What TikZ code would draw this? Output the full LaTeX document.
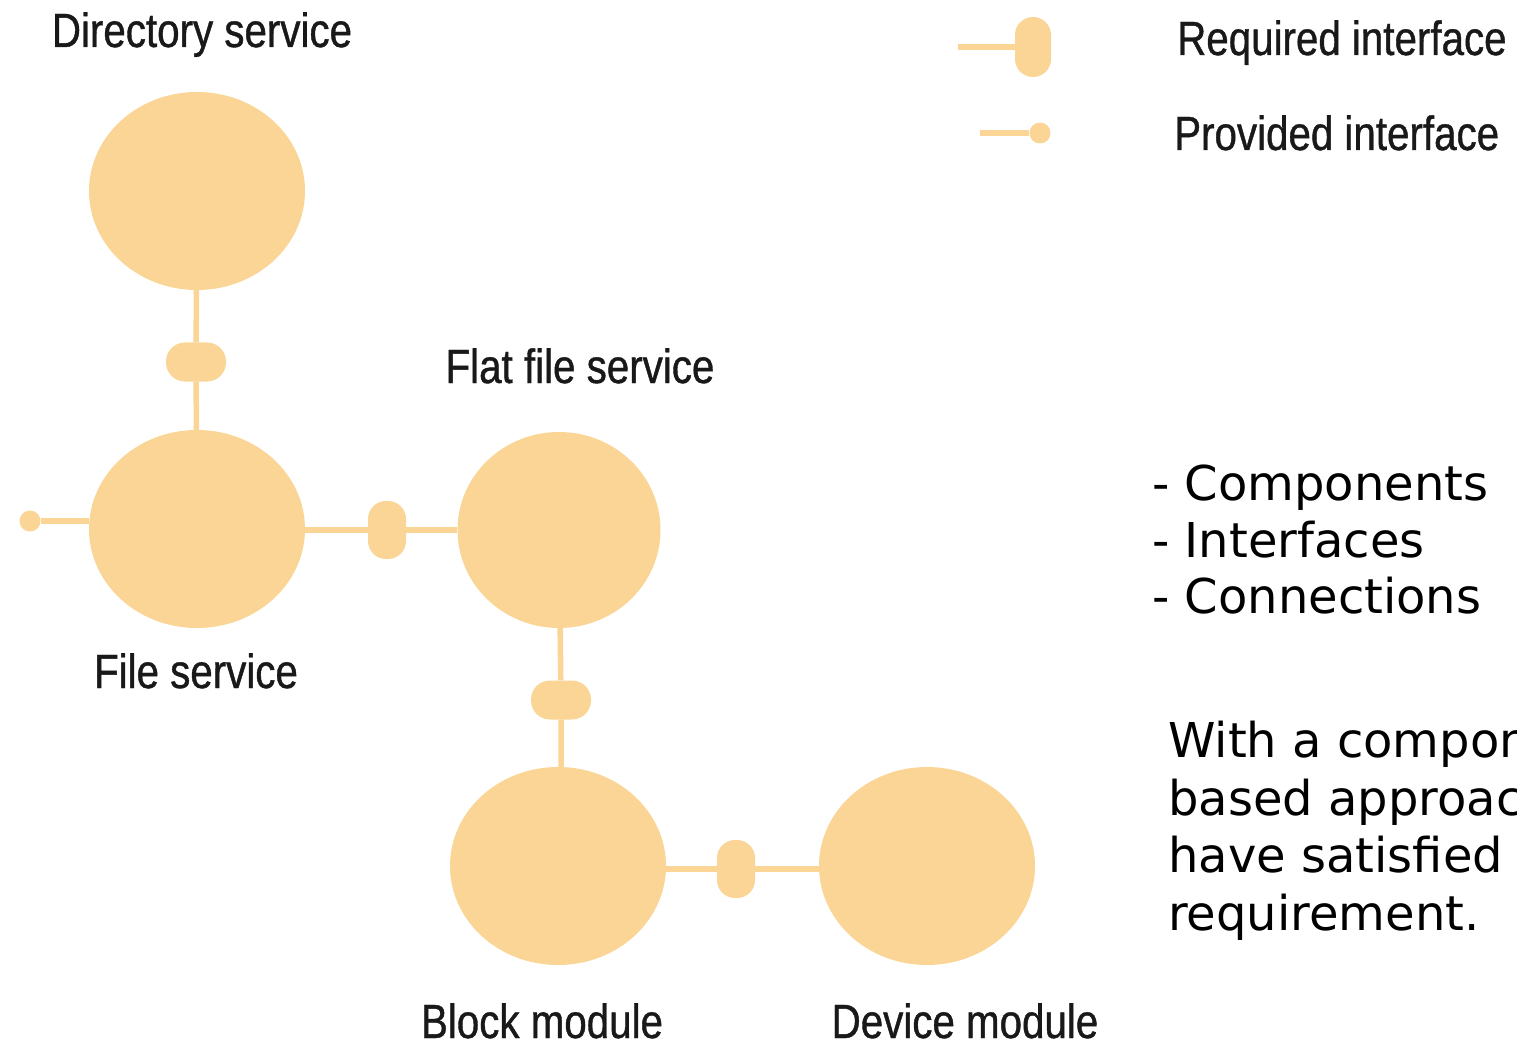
\documentclass[tikz,border=0pt]{standalone}
\usepackage{fontspec}
\usetikzlibrary{shapes.geometric}
\newfontfamily\labfont[FakeStretch=0.84,FakeBold=0.8]{Liberation Sans}
\newfontfamily\verdfont{DejaVu Sans}
\definecolor{comp}{HTML}{FAD596}
\tikzset{
  compnode/.style={ellipse, fill=comp, draw=none, minimum width=216pt, minimum height=198pt, inner sep=0pt},
  conn/.style={draw=comp, line width=5.5pt},
  vpill/.style={fill=comp, draw=none, rounded corners=18pt, minimum width=38pt, minimum height=58pt, inner sep=0pt},
  hpill/.style={fill=comp, draw=none, rounded corners=19pt, minimum width=60pt, minimum height=39pt, inner sep=0pt},
  provdot/.style={circle, fill=comp, draw=none, minimum size=21pt, inner sep=0pt},
  lab/.style={font=\labfont\fontsize{48}{52}\selectfont, inner sep=0pt, anchor=base, text=black!90},
  body/.style={font=\verdfont\fontsize{48}{56}\selectfont, inner sep=0pt, anchor=base west, text=black}
}
\begin{document}
\begin{tikzpicture}[x=1pt,y=-1pt]
\path[use as bounding box, clip] (0,0) rectangle (1517,1048);
\fill[white] (0,0) rectangle (1517,1048);

% components
\node[compnode] (dir) at (197,191) {};
\node[compnode] (file) at (197,529) {};
\node[compnode, minimum width=203pt, minimum height=196pt] (flat) at (559,530) {};
\node[compnode] (block) at (558,866) {};
\node[compnode] (device) at (927,866) {};

% required interfaces
\node[hpill] (p1) at (196,362) {};
\node[vpill] (p2) at (387,530) {};
\node[hpill] (p3) at (561,700) {};
\node[vpill] (p4) at (736,869) {};

% provided interface
\node[provdot] (pv) at (30,521) {};

% connectors
\draw[conn] (dir) -- (p1) -- (file);
\draw[conn] (file.east |- p2) -- (p2) -- (flat.west |- p2);
\draw[conn] (flat) -- (p3) -- (block.north -| p3);
\draw[conn] (block.east |- p4) -- (p4) -- (device.west |- p4);
\draw[conn] (pv) -- (file.west |- pv);

% legend
\node[vpill, minimum width=36pt, minimum height=60pt] (lreq) at (1033,47) {};
\coordinate (lreqend) at (958,47);
\draw[conn] (lreqend) -- (lreq);
\node[provdot] (lprov) at (1040,133) {};
\coordinate (lprovend) at (980,133);
\draw[conn] (lprovend) -- (lprov);
\node[lab, anchor=base west] (treq) at (1177,55) {Required interface};
\node[lab, anchor=base west] (tprov) at (1174,150) {Provided interface};

% labels
\node[lab] (tdir) at (202,47) {Directory service};
\node[lab] (tflat) at (580,383) {Flat file service};
\node[lab] (tfile) at (196,688) {File service};
\node[lab] (tblock) at (542,1038) {Block module};
\node[lab] (tdevice) at (965,1038) {Device module};

% right-hand text
\node[body] (b1) at (1152,500) {- Components};
\node[body] (b2) at (1152,557) {- Interfaces};
\node[body] (b3) at (1152,613) {- Connections};
\node[body] (w1) at (1168,757) {With a component-};
\node[body] (w2) at (1168,815) {based approach we};
\node[body] (w3) at (1168,872) {have satisfied the};
\node[body] (w4) at (1168,930) {requirement.};
\end{tikzpicture}
\end{document}
